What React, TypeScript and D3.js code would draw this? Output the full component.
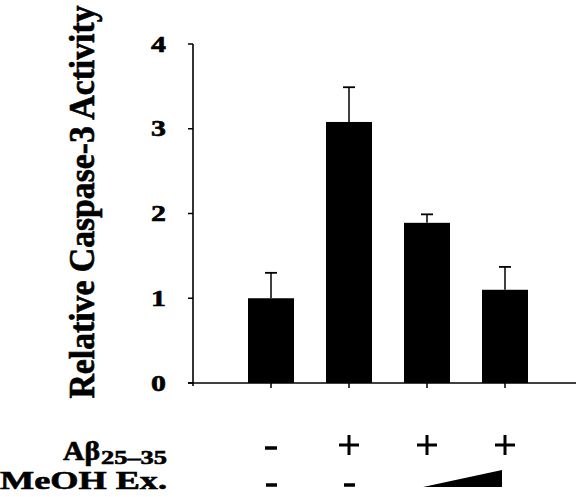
import React from "react";
import * as d3 from "d3";

const categories = ["ctrl", "abeta", "abeta_low", "abeta_high"];
const values = [1.0, 3.08, 1.89, 1.1];
const errors = [0.3, 0.41, 0.1, 0.27];
const yTicks = [0, 1, 2, 3, 4];
const abetaSigns = ["-", "+", "+", "+"];
const meohSigns = ["-", "-", "ramp", "ramp"];

const W = 576;
const H = 497;

export default function App() {
  const x = d3.scalePoint<string>().domain(categories).range([271, 505]);
  const y = d3.scaleLinear().domain([0, 4]).range([383, 44]);
  const bw = 46;
  const axisX = 193;
  const serif = {
    fontFamily: '"Liberation Serif", "Times New Roman", serif',
    fontWeight: 700,
    stroke: "#000",
    strokeWidth: 0.6,
  };

  const rampStart = (x(categories[2]) as number) - 4;
  const rampEnd = (x(categories[3]) as number) - 3;

  return (
    <svg width={W} height={H} style={{ position: "absolute", left: 0, top: 0, background: "#fff" }}>
      {categories.map((c, i) => {
        const cx = x(c) as number;
        const top = y(values[i]);
        const et = y(values[i] + errors[i]);
        return (
          <g key={c}>
            <rect x={cx - bw / 2} y={top} width={bw} height={y(0) - top} fill="#000" />
            <line x1={cx} x2={cx} y1={top} y2={et} stroke="#000" strokeWidth={1.5} />
            <line x1={cx - 6} x2={cx + 6} y1={et} y2={et} stroke="#000" strokeWidth={1.8} />
            <line x1={cx} x2={cx} y1={y(0)} y2={y(0) + 5} stroke="#000" strokeWidth={1.5} />
          </g>
        );
      })}
      <line x1={axisX} x2={axisX} y1={y(4)} y2={y(0) + 3} stroke="#000" strokeWidth={1.6} />
      <line x1={axisX - 5} x2={W} y1={y(0)} y2={y(0)} stroke="#000" strokeWidth={1.6} />
      {yTicks.map((t) => (
        <g key={t}>
          <line x1={axisX - 5} x2={axisX} y1={y(t)} y2={y(t)} stroke="#000" strokeWidth={1.5} />
          <text
            transform={`translate(166,${y(t)}) scale(1.3,1)`}
            dy="0.33em"
            textAnchor="end"
            style={{ ...serif, fontSize: 23 }}
          >
            {t}
          </text>
        </g>
      ))}
      <text
        transform="translate(94,202) scale(1.1,1) rotate(-90)"
        textAnchor="middle"
        style={{ ...serif, fontSize: 33 }}
        textLength={393}
        lengthAdjust="spacingAndGlyphs"
      >
        Relative Caspase-3  Activity
      </text>
      <text x={63} y={460} style={{ ...serif, fontSize: 27 }} textLength={37} lengthAdjust="spacingAndGlyphs">
        Aβ
      </text>
      <text x={101} y={464} style={{ ...serif, fontSize: 19 }} textLength={66} lengthAdjust="spacingAndGlyphs">
        25–35
      </text>
      <text x={0} y={489} style={{ ...serif, fontSize: 26 }} textLength={167} lengthAdjust="spacingAndGlyphs">
        MeOH Ex.
      </text>
      {abetaSigns.map((s, i) => {
        const cx = x(categories[i]) as number;
        return s === "+" ? (
          <g key={"a" + i}>
            <line x1={cx - 10} x2={cx + 10} y1={445} y2={445} stroke="#000" strokeWidth={3} />
            <line x1={cx} x2={cx} y1={435} y2={455} stroke="#000" strokeWidth={3} />
          </g>
        ) : (
          <line key={"a" + i} x1={cx - 6} x2={cx + 6} y1={448} y2={448} stroke="#000" strokeWidth={3.5} />
        );
      })}
      {meohSigns.map((s, i) => {
        const cx = x(categories[i]) as number;
        return s === "-" ? (
          <line key={"m" + i} x1={cx - 5} x2={cx + 6} y1={485} y2={485} stroke="#000" strokeWidth={3.5} />
        ) : null;
      })}
      <path d={`M${rampStart},487 L${rampEnd},487 L${rampEnd},470 Z`} fill="#000" />
    </svg>
  );
}
